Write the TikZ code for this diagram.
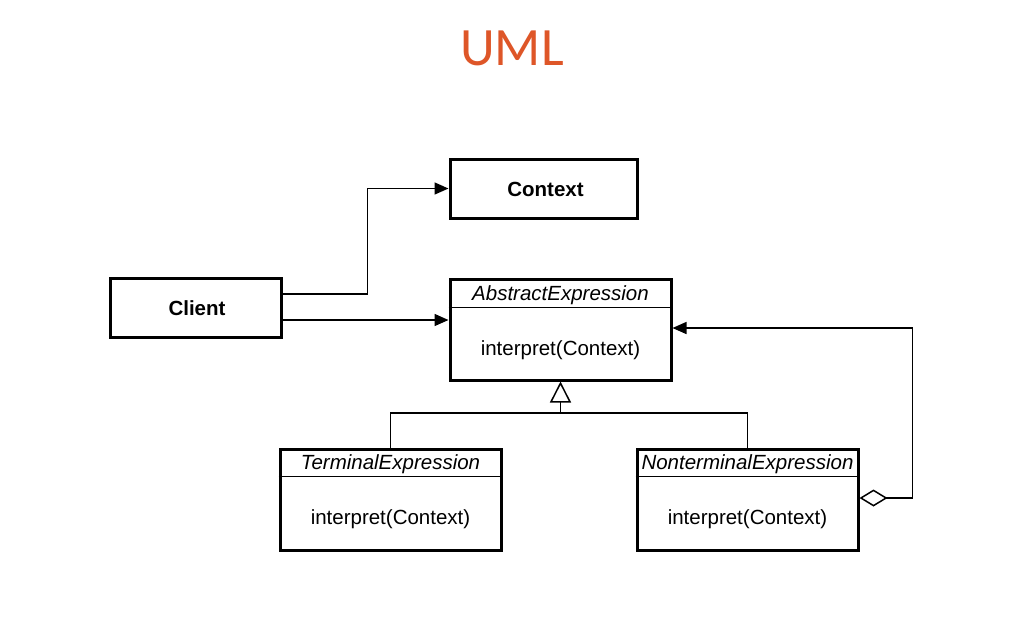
\documentclass[tikz,border=0pt]{standalone}
\usepackage{fontspec}
\setmainfont{Liberation Sans}
\newfontfamily\titlefont{Carlito}
\usetikzlibrary{arrows.meta}
\definecolor{umlorange}{RGB}{222,86,40}
\tikzset{
  classbox/.style={draw, line width=3pt, minimum width=221pt, minimum height=101pt, inner sep=0pt},
  plainbox/.style={draw, line width=3pt, inner sep=0pt},
  txt/.style={font=\fontsize{20.5}{24}\selectfont, inner sep=0pt},
  conn/.style={line width=1.5pt},
  solidarrow/.style={-{Triangle[length=14pt,width=12pt]}},
}
\begin{document}
\begin{tikzpicture}[x=1pt,y=-1pt]
\useasboundingbox (0,0) rectangle (1023,625);
% title
\node[font=\titlefont\fontsize{54}{60}\selectfont, text=umlorange, inner sep=0pt] (title) at (512,48) {UML};
% plain boxes
\node[plainbox, minimum width=187pt, minimum height=59pt] (ctx) at (543.5,188.5) {};
\node[txt, font=\fontsize{20.5}{24}\selectfont\bfseries] (ctxlbl) at (545.5,189) {Context};
\node[plainbox, minimum width=171pt, minimum height=59pt] (client) at (195.5,307.5) {};
\node[txt, font=\fontsize{20.5}{24}\selectfont\bfseries] (clientlbl) at (197,308) {Client};
% class boxes
\node[classbox] (abs) at (560.5,329.5) {};
\draw[line width=1.6pt] ([yshift=-30pt]abs.north west) -- ([yshift=-30pt]abs.north east);
\node[txt, font=\fontsize{20.5}{24}\selectfont\itshape] (absname) at (560.5,295) {AbstractExpression};
\node[txt] (absop) at (560.5,350) {interpret(Context)};

\node[classbox] (term) at (390.5,499.5) {};
\draw[line width=1.6pt] ([yshift=-29pt]term.north west) -- ([yshift=-29pt]term.north east);
\node[txt, font=\fontsize{20.5}{24}\selectfont\itshape] (termname) at (390.5,464.5) {TerminalExpression};
\node[txt] (termop) at (390.5,519.5) {interpret(Context)};

\node[classbox] (nonterm) at (747.5,499.5) {};
\draw[line width=1.6pt] ([yshift=-29pt]nonterm.north west) -- ([yshift=-29pt]nonterm.north east);
\node[txt, font=\fontsize{20.5}{24}\selectfont\itshape] (nontermname) at (747.5,464.5) {NonterminalExpression};
\node[txt] (nontermop) at (747.5,519.5) {interpret(Context)};

% connectors
\draw[conn, solidarrow] ([yshift=13.5pt]client.east) -- ++(85,0) |- (ctx.west);
\draw[conn, solidarrow] ([yshift=-12.5pt]client.east) coordinate (c2) -- (c2 -| abs.west);
\coordinate (join) at (560.5,413);
\draw[conn] (term.north) |- (join) -| (nonterm.north);
\draw[conn, -{Triangle[open, length=21pt, width=21pt]}] (join) -- (abs.south);
\draw[conn, {Diamond[open, length=28pt, width=17pt]}-{Triangle[length=14pt,width=12pt]}] ([yshift=1.5pt]nonterm.east) -- ++(53,0) |- ([yshift=1.5pt]abs.east);
\end{tikzpicture}
\end{document}
